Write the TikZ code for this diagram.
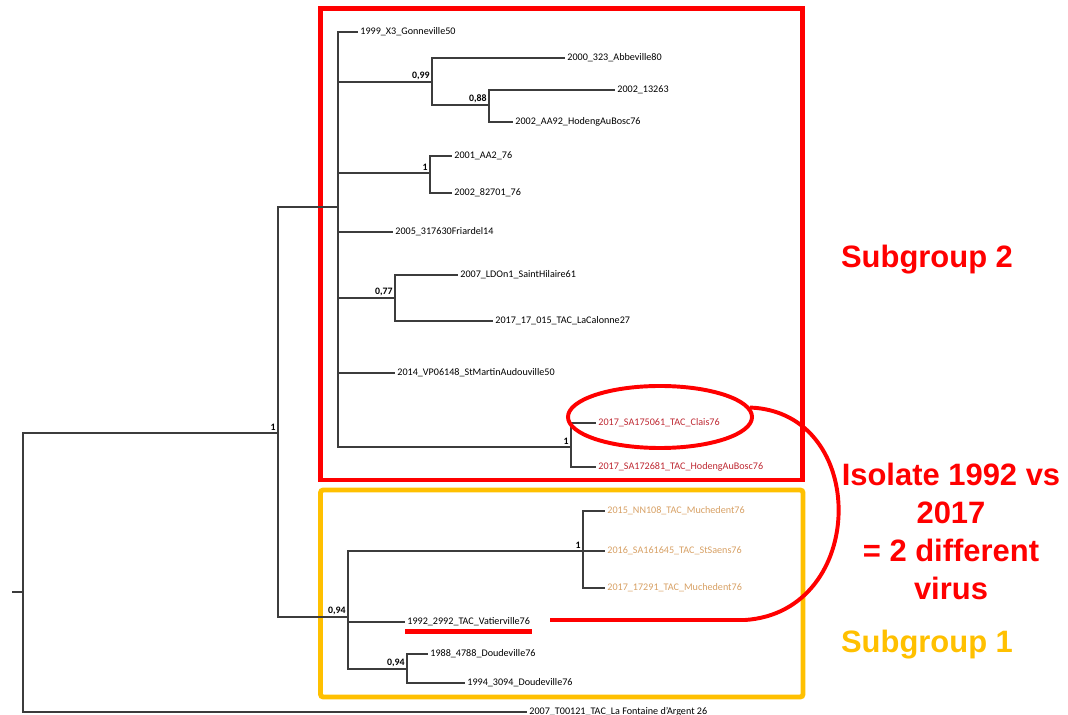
\documentclass[tikz,border=0pt]{standalone}
\usepackage{fontspec}
\setmainfont{Carlito}
\newfontfamily\slidefont{Liberation Sans}
\usepackage{tikz}
\usetikzlibrary{calc,positioning,shapes.geometric}
\definecolor{treeline}{RGB}{60,60,60}
\definecolor{grpred}{RGB}{255,0,0}
\definecolor{grpyellow}{RGB}{255,192,0}
\definecolor{leafred}{RGB}{190,40,50}
\definecolor{leaftan}{RGB}{215,160,100}
\tikzset{
  branch/.style={draw=treeline, line width=1pt},
  leaf/.style={anchor=west, inner sep=1.5pt,
               font=\fontsize{7.2}{8}\selectfont, text=black},
  leaf red/.style={leaf, text=leafred},
  leaf tan/.style={leaf, text=leaftan},
  support/.style={anchor=south east, inner sep=1.5pt,
                  font=\fontsize{7}{8}\selectfont\bfseries},
  groupbox/.style={line width=3.5pt},
  callout/.style={draw=grpred, line width=2.8pt},
  bigtext/.style={font=\slidefont\bfseries\fontsize{22}{27}\selectfont,
                  align=center, inner sep=0pt},
}

\begin{document}
\begin{tikzpicture}[x=0.025cm, y=-0.025cm]
\useasboundingbox (0,0) rectangle (1068,715);
% Tree drawn in pixel units of the slide (y runs down).
% Group frames first so the tree sits on top of them.
\draw[groupbox, draw=grpred] (320.5,8.5) rectangle (802.5,480);
\draw[groupbox, draw=grpyellow, rounded corners=2pt] (320.5,490) rectangle (803,697);
% internal nodes
\coordinate (stub) at (12,592);
\foreach \nm/\x/\y in {root/23/592, nA/278/433, sg2/338/207, n099/432/82,
                       n088/489/105, n1a/430/173, n077/395/298, nCl/571/447,
                       sg1/348/617, nMu/583/551, n094/407/669}
  \coordinate (\nm) at (\x,\y);
% leaves, black
\foreach \nm/\x/\y/\txt in {
    L1/358/32/1999\_X3\_Gonneville50,
    L2/565/58/2000\_323\_Abbeville80,
    L3/615/90/2002\_13263,
    L4/513/122/2002\_AA92\_HodengAuBosc76,
    L5/452/156/2001\_AA2\_76,
    L6/452/193/2002\_82701\_76,
    L7/393/232/2005\_317630Friardel14,
    L8/458/275/2007\_LDOn1\_SaintHilaire61,
    L9/493/321/2017\_17\_015\_TAC\_LaCalonne27,
    L10/395/373/2014\_VP06148\_StMartinAudouville50,
    L16/405/622/1992\_2992\_TAC\_Vatierville76,
    L17/428/654/1988\_4788\_Doudeville76,
    L18/465/683/1994\_3094\_Doudeville76,
    L19/527/712/2007\_T00121\_TAC\_La Fontaine d'Argent 26}
  \node[leaf] (\nm) at (\x,\y) {\txt};
% leaves, 2017 Clais pair
\foreach \nm/\y/\txt in {L11/423/2017\_SA175061\_TAC\_Clais76,
                         L12/467/2017\_SA172681\_TAC\_HodengAuBosc76}
  \node[leaf red] (\nm) at (596,\y) {\txt};
% leaves, Muchedent clade
\foreach \nm/\y/\txt in {L13/511/2015\_NN108\_TAC\_Muchedent76,
                         L14/551/2016\_SA161645\_TAC\_StSaens76,
                         L15/588/2017\_17291\_TAC\_Muchedent76}
  \node[leaf tan] (\nm) at (605,\y) {\txt};
% branches
\draw[branch] (stub) -- (root);
\foreach \p/\c in {root/nA, root/L19, nA/sg2, nA/sg1,
                   sg2/L1, sg2/n099, sg2/n1a, sg2/L7, sg2/n077, sg2/L10, sg2/nCl,
                   n099/L2, n099/n088, n088/L3, n088/L4, n1a/L5, n1a/L6,
                   n077/L8, n077/L9, nCl/L11, nCl/L12,
                   sg1/nMu, sg1/L16, sg1/n094, nMu/L13, nMu/L14, nMu/L15,
                   n094/L17, n094/L18}
  \draw[branch] (\p) |- (\c);
% support values
\foreach \nm/\val in {nA/1, n099/{0,99}, n088/{0,88}, n1a/1, n077/{0,77},
                      nCl/1, sg1/{0,94}, nMu/1, n094/{0,94}}
  \node[support] (s-\nm) at (\nm) {\val};
% highlight of the 1992 isolate and link to the 2017 one
\draw[draw=grpred, line width=3.5pt]
  ([yshift=-2pt]L16.south west) -- ([yshift=-2pt]L16.south east);
\node[callout, ellipse, minimum width=4.6cm, minimum height=1.55cm] (ring) at (660,417) {};
\coordinate (tail) at (550,620);
\draw[callout] (ring.6) .. controls (870,412) and (868,612) .. (745,620) -- (tail);
% notes on the right
\node[bigtext, text=grpred] (sub2) at (927,260) {Subgroup 2};
\node[bigtext, text=grpred] (verdict) at (951,531)
  {Isolate 1992 vs\\2017\\= 2 different\\virus};
\node[bigtext, text=grpyellow] (sub1) at (927,645) {Subgroup 1};
\end{tikzpicture}
\end{document}
